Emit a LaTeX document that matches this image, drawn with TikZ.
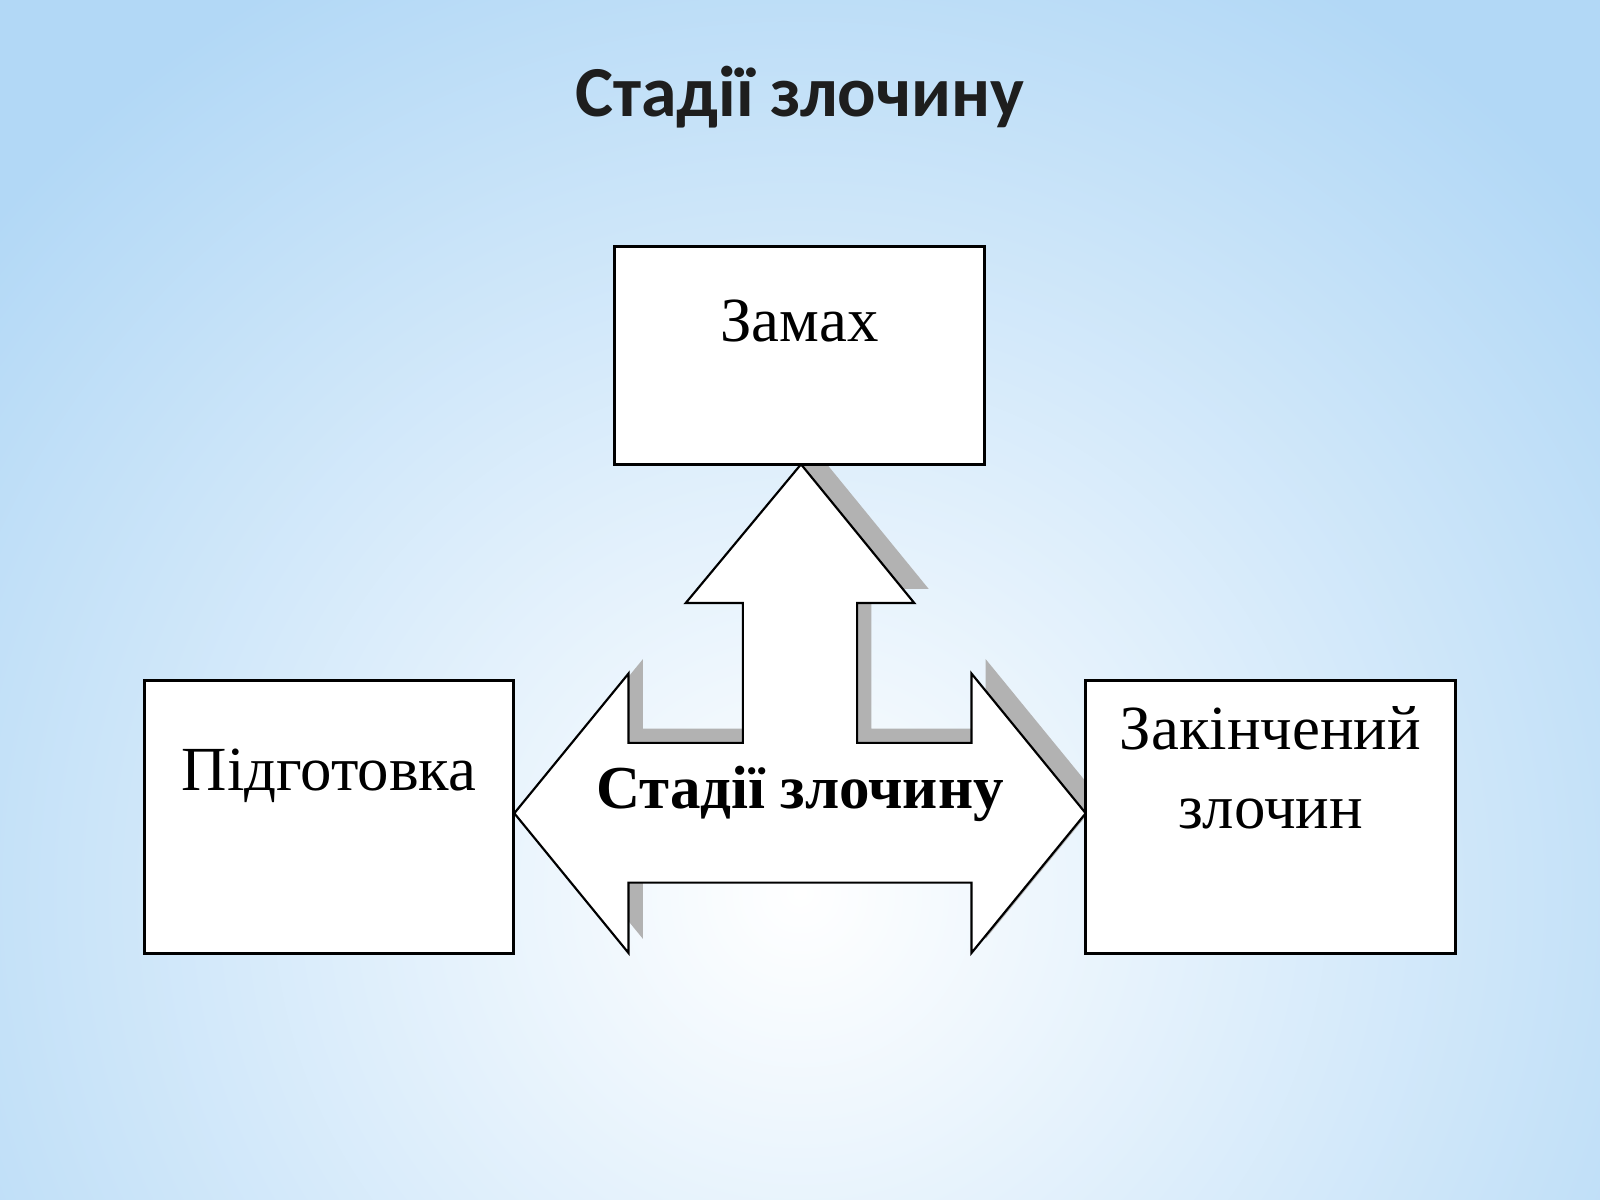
\documentclass[tikz,border=0pt]{standalone}
\usepackage{fontspec}
\setmainfont{Liberation Serif}
\newfontfamily\titlefont{Carlito}
\usetikzlibrary{positioning}
\definecolor{bgblue}{RGB}{178,216,246}
\definecolor{titlegray}{RGB}{30,30,30}
\tikzset{
  stagebox/.style={draw=black, fill=white, line width=0.8pt, minimum width=3.63cm, minimum height=2.13cm, inner sep=0pt},
  stagetext/.style={font=\fontsize{17.5}{21}\selectfont, align=center},
  arrowshape/.style={draw=black, fill=white, line width=0.6pt},
  arrowshadow/.style={fill=black!30}
}
\begin{document}
\begin{tikzpicture}[x=0.01cm, y=-0.01cm]
  % Background
  \useasboundingbox (0,0) rectangle (1568,1176);
  \fill[bgblue] (0,0) rectangle (1568,1176);
  \shade[inner color=white, outer color=bgblue] (-250,-150) rectangle (1818,1900);
  % Title
  \node[font=\titlefont\bfseries\fontsize{20}{24}\selectfont, text=titlegray] (title) at (784,95) {Стадії злочину};
  % Arrow shadow
  \fill[arrowshadow, shift={(14,-14)}] (785,455) -- (896,591) -- (840,591) -- (840,728) -- (952,728)
    -- (952,660) -- (1064,797) -- (952,934) -- (952,865) -- (616,865) -- (616,934) -- (504,797)
    -- (616,660) -- (616,728) -- (728,728) -- (728,591) -- (672,591) -- cycle;
  % Arrow
  \draw[arrowshape] (785,455) -- (896,591) -- (840,591) -- (840,728) -- (952,728)
    -- (952,660) -- (1064,797) -- (952,934) -- (952,865) -- (616,865) -- (616,934) -- (504,797)
    -- (616,660) -- (616,728) -- (728,728) -- (728,591) -- (672,591) -- cycle;
  \node[font=\bfseries\fontsize{17}{20}\selectfont] (stadii) at (784,778) {Стадії злочину};
  % Boxes
  \node[stagebox, minimum height=2.13cm] (zamakh) at (783.5,348.5) {};
  \node[stagetext] at (783.5,315) {Замах};
  \node[stagebox, minimum width=3.61cm, minimum height=2.67cm] (pidhotovka) at (322.5,800.5) {};
  \node[stagetext] at (322.5,760) {Підготовка};
  \node[stagebox, minimum width=3.62cm, minimum height=2.67cm] (zakinch) at (1245,800.5) {};
  \node[stagetext] at (1245,752) {Закінчений\\[1pt]злочин};
\end{tikzpicture}
\end{document}
